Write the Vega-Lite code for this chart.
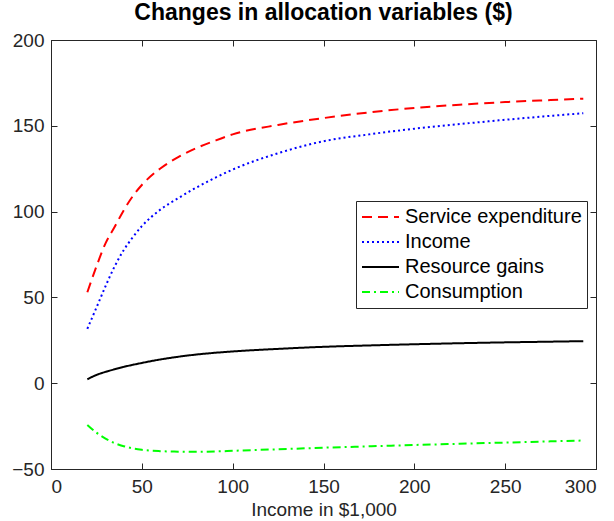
{
  "$schema": "https://vega.github.io/schema/vega-lite/v6.json",
  "width": 545,
  "height": 429,
  "autosize": "none",
  "padding": {"left": 51, "top": 40, "right": 18, "bottom": 52},
  "background": "white",
  "title": {"text": "Changes in allocation variables ($)", "font": "Liberation Sans", "fontSize": 23, "fontWeight": "bold", "color": "black", "offset": 6, "anchor": "middle"},
  "config": {
    "view": {"stroke": "#262626", "strokeWidth": 1},
    "axis": {"labelFont": "Liberation Sans", "labelFontSize": 19, "labelColor": "#262626", "titleFont": "Liberation Sans", "titleFontSize": 19, "titleFontWeight": "normal", "titleColor": "#262626", "domainColor": "#262626", "tickColor": "#262626", "grid": false, "tickSize": -6}
  },
  "data": {"values": [
    {"x": 20, "s": "Service expenditure", "y": 53},
    {"x": 25, "s": "Service expenditure", "y": 68},
    {"x": 30, "s": "Service expenditure", "y": 81.5},
    {"x": 35, "s": "Service expenditure", "y": 91},
    {"x": 40, "s": "Service expenditure", "y": 100.7},
    {"x": 45, "s": "Service expenditure", "y": 109},
    {"x": 50, "s": "Service expenditure", "y": 115.5},
    {"x": 60, "s": "Service expenditure", "y": 125},
    {"x": 70, "s": "Service expenditure", "y": 131.7},
    {"x": 80, "s": "Service expenditure", "y": 137},
    {"x": 90, "s": "Service expenditure", "y": 141.2},
    {"x": 100, "s": "Service expenditure", "y": 145},
    {"x": 125, "s": "Service expenditure", "y": 150.5},
    {"x": 150, "s": "Service expenditure", "y": 154.5},
    {"x": 175, "s": "Service expenditure", "y": 157.8},
    {"x": 200, "s": "Service expenditure", "y": 160.4},
    {"x": 225, "s": "Service expenditure", "y": 162.3},
    {"x": 250, "s": "Service expenditure", "y": 163.8},
    {"x": 275, "s": "Service expenditure", "y": 165},
    {"x": 293, "s": "Service expenditure", "y": 165.8},
    {"x": 20, "s": "Income", "y": 31.7},
    {"x": 25, "s": "Income", "y": 44},
    {"x": 30, "s": "Income", "y": 56.5},
    {"x": 35, "s": "Income", "y": 68},
    {"x": 40, "s": "Income", "y": 77.5},
    {"x": 45, "s": "Income", "y": 85},
    {"x": 50, "s": "Income", "y": 91.5},
    {"x": 60, "s": "Income", "y": 101},
    {"x": 70, "s": "Income", "y": 107.8},
    {"x": 80, "s": "Income", "y": 114},
    {"x": 90, "s": "Income", "y": 119.5},
    {"x": 100, "s": "Income", "y": 124.5},
    {"x": 125, "s": "Income", "y": 134},
    {"x": 150, "s": "Income", "y": 141},
    {"x": 175, "s": "Income", "y": 145},
    {"x": 200, "s": "Income", "y": 148.3},
    {"x": 225, "s": "Income", "y": 151},
    {"x": 250, "s": "Income", "y": 153.5},
    {"x": 275, "s": "Income", "y": 155.8},
    {"x": 293, "s": "Income", "y": 157.3},
    {"x": 20, "s": "Resource gains", "y": 2.3},
    {"x": 25, "s": "Resource gains", "y": 4.8},
    {"x": 30, "s": "Resource gains", "y": 6.6},
    {"x": 35, "s": "Resource gains", "y": 8.1},
    {"x": 40, "s": "Resource gains", "y": 9.5},
    {"x": 45, "s": "Resource gains", "y": 10.7},
    {"x": 50, "s": "Resource gains", "y": 11.8},
    {"x": 60, "s": "Resource gains", "y": 13.8},
    {"x": 70, "s": "Resource gains", "y": 15.4},
    {"x": 80, "s": "Resource gains", "y": 16.7},
    {"x": 90, "s": "Resource gains", "y": 17.7},
    {"x": 100, "s": "Resource gains", "y": 18.5},
    {"x": 125, "s": "Resource gains", "y": 20},
    {"x": 150, "s": "Resource gains", "y": 21.2},
    {"x": 175, "s": "Resource gains", "y": 22},
    {"x": 200, "s": "Resource gains", "y": 22.7},
    {"x": 225, "s": "Resource gains", "y": 23.3},
    {"x": 250, "s": "Resource gains", "y": 23.8},
    {"x": 275, "s": "Resource gains", "y": 24.2},
    {"x": 293, "s": "Resource gains", "y": 24.5},
    {"x": 20, "s": "Consumption", "y": -24.3},
    {"x": 25, "s": "Consumption", "y": -28.8},
    {"x": 30, "s": "Consumption", "y": -32.3},
    {"x": 35, "s": "Consumption", "y": -34.9},
    {"x": 40, "s": "Consumption", "y": -36.7},
    {"x": 45, "s": "Consumption", "y": -38},
    {"x": 50, "s": "Consumption", "y": -38.8},
    {"x": 60, "s": "Consumption", "y": -39.6},
    {"x": 70, "s": "Consumption", "y": -39.9},
    {"x": 80, "s": "Consumption", "y": -40},
    {"x": 90, "s": "Consumption", "y": -39.8},
    {"x": 100, "s": "Consumption", "y": -39.4},
    {"x": 125, "s": "Consumption", "y": -38.5},
    {"x": 150, "s": "Consumption", "y": -37.6},
    {"x": 175, "s": "Consumption", "y": -36.8},
    {"x": 200, "s": "Consumption", "y": -36},
    {"x": 225, "s": "Consumption", "y": -35.3},
    {"x": 250, "s": "Consumption", "y": -34.6},
    {"x": 275, "s": "Consumption", "y": -33.9},
    {"x": 293, "s": "Consumption", "y": -33.4}
  ]},
  "layer": [
    {
      "mark": {"type": "line", "strokeWidth": 2, "interpolate": "monotone"},
      "encoding": {
        "x": {"field": "x", "type": "quantitative", "scale": {"domain": [0, 300], "nice": false}, "axis": {"values": [0, 50, 100, 150, 200, 250, 300], "title": "Income in $1,000", "titlePadding": 4, "labelPadding": 14}},
        "y": {"field": "y", "type": "quantitative", "scale": {"domain": [-50, 200], "nice": false}, "axis": {"values": [-50, 0, 50, 100, 150, 200], "title": null, "labelPadding": 13}},
        "color": {"field": "s", "type": "nominal", "scale": {"domain": ["Service expenditure", "Income", "Resource gains", "Consumption"], "range": ["#ff0000", "#0000ff", "#000000", "#00ff00"]},
          "legend": {"title": null, "orient": "none", "legendX": 305, "legendY": 161, "symbolType": "stroke", "symbolSize": 1369, "symbolStrokeWidth": 2, "labelFont": "Liberation Sans", "labelFontSize": 20, "labelLimit": 300, "labelColor": "black", "clipHeight": 22, "rowPadding": 3, "labelOffset": 5, "padding": 5, "strokeColor": "#262626", "fillColor": "white", "cornerRadius": 0}},
        "strokeDash": {"field": "s", "type": "nominal", "scale": {"domain": ["Service expenditure", "Income", "Resource gains", "Consumption"], "range": [[10, 6], [2, 3], [1, 0], [8, 4, 2, 4]]},
          "legend": {"title": null, "orient": "none", "legendX": 305, "legendY": 161, "symbolType": "stroke", "symbolSize": 1369, "symbolStrokeWidth": 2, "labelFont": "Liberation Sans", "labelFontSize": 20, "labelLimit": 300, "labelColor": "black", "clipHeight": 22, "rowPadding": 3, "labelOffset": 5, "padding": 5, "strokeColor": "#262626", "fillColor": "white", "cornerRadius": 0}
        }
      }
    },
    {
      "mark": {"type": "point", "opacity": 0},
      "encoding": {
        "x": {"field": "x", "type": "quantitative", "scale": {"domain": [0, 300], "nice": false}, "axis": {"orient": "top", "values": [0, 50, 100, 150, 200, 250, 300], "labels": false, "title": null, "domain": false, "ticks": true}},
        "y": {"field": "y", "type": "quantitative", "scale": {"domain": [-50, 200], "nice": false}, "axis": {"orient": "right", "values": [-50, 0, 50, 100, 150, 200], "labels": false, "title": null, "domain": false, "ticks": true}}
      }
    }
  ],
  "resolve": {"scale": {"x": "independent", "y": "independent"}, "axis": {"x": "independent", "y": "independent"}}
}
